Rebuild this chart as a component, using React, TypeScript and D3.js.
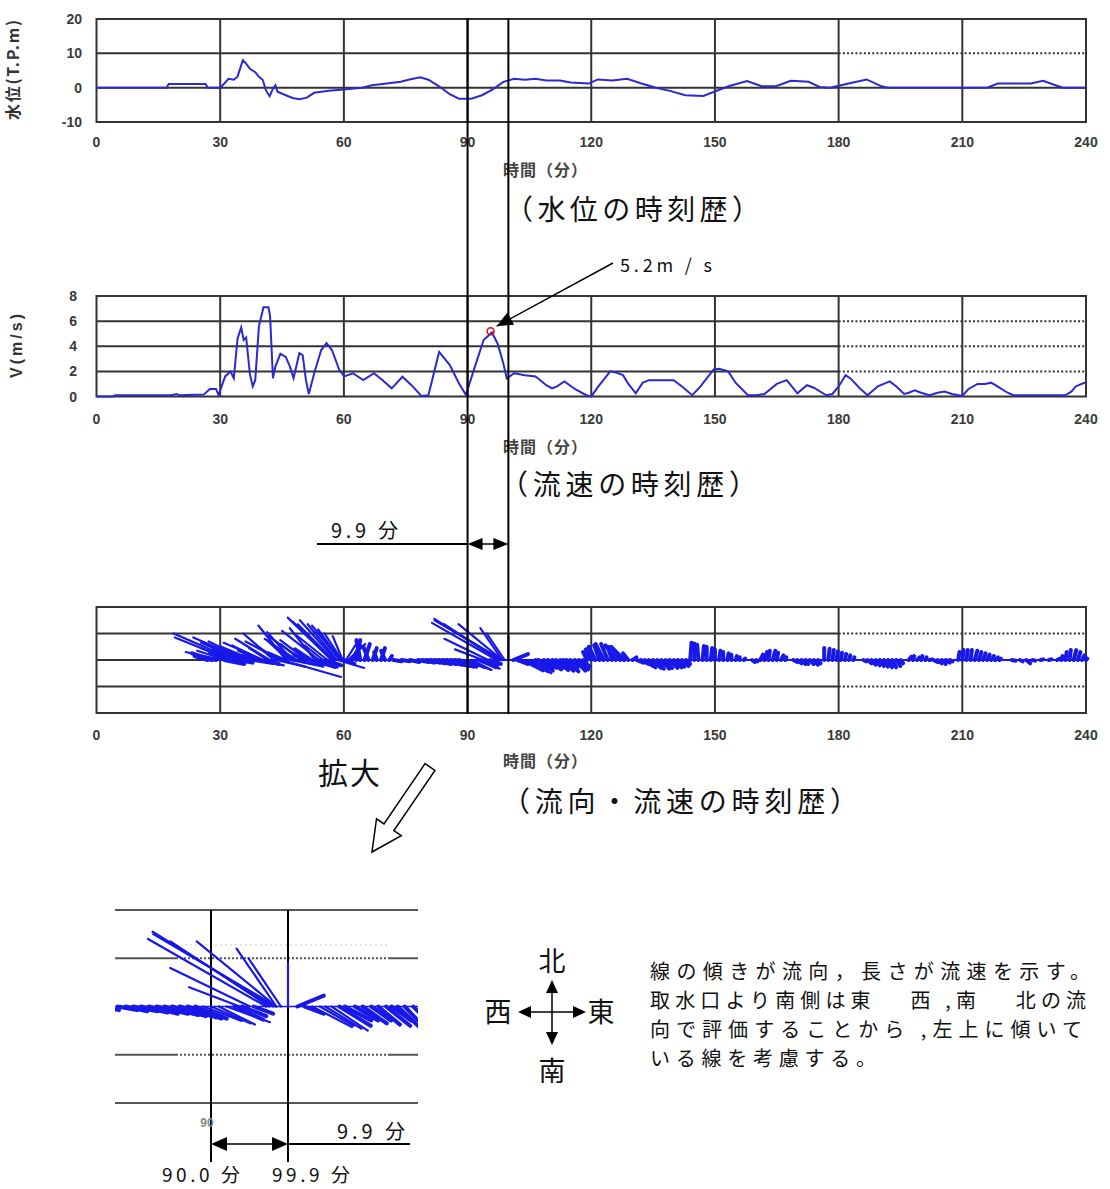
import React from 'react';
import * as d3 from 'd3';

// 水位 (T.P.m)
const wlTime = [0, 17, 17.5, 26.4, 27, 30, 31, 32, 33.3, 34.2, 35.5, 36.3, 37.2, 38.5, 39.4, 40.3, 41.1, 42, 42.8, 43.4, 43.9, 45.9, 47.6, 49.2, 51, 52.8, 56.3, 60, 64.4, 66.8, 70.4, 73.8, 75.9, 78.5, 80.5, 83.1, 85.7, 87.9, 90.9, 93.5, 96.1, 98.7, 101.3, 103.9, 106.5, 109.1, 112.4, 115, 119.4, 121.6, 125.1, 128.7, 132.2, 135.7, 139.3, 142.8, 147.2, 149.8, 153.3, 157.8, 161.3, 164.8, 168.4, 172.7, 175.4, 178, 182.4, 186.8, 190.4, 192, 216, 218.6, 226.6, 229.6, 232.6, 234.4, 240];
const wlLevel = [0, 0, 1.1, 1.1, 0, 0, 1.2, 2.6, 2.3, 3.2, 8, 7, 5.5, 4.5, 3.2, 2.3, -0.8, -2.5, -0.3, 0.7, -1.2, -2.2, -3, -3.4, -2.9, -1.5, -0.9, -0.5, 0, 0.7, 1.2, 1.7, 2.4, 3, 2.3, 0.4, -1.9, -3.2, -3.2, -2.2, -0.5, 1.7, 2.6, 2.3, 2.6, 2.1, 2.1, 1.5, 1.2, 2.4, 2.1, 2.6, 1.2, 0, -1, -2.2, -2.4, -1.2, 0.4, 1.9, 0.4, 0.4, 2, 1.7, 0.2, 0, 1.2, 2.4, 0.4, 0, 0, 1.2, 1.2, 2, 0.7, 0, 0];

// 流速 V (m/s)
const velTime = [0, 4, 4.5, 18, 19.5, 20, 26, 27.5, 29, 29.6, 31.2, 32.5, 33.3, 34.2, 35.1, 35.7, 36.3, 37.2, 37.9, 38.5, 39.4, 40.5, 41.7, 42.1, 42.8, 43.4, 44.6, 45.9, 46.9, 47.8, 49.2, 50, 50.8, 51.5, 52.8, 54.5, 55.8, 57.1, 58.9, 60.1, 62.2, 64.7, 67.3, 69.4, 71.6, 74.2, 76.4, 78.8, 80.5, 83.1, 85.7, 87.9, 89.6, 91.8, 93.9, 95.9, 97.3, 98.7, 99.5, 101.3, 103.9, 106.5, 109.1, 110.5, 111.7, 113.5, 116, 118.8, 120, 121.5, 124.6, 126, 127.7, 129, 130.8, 132.5, 134, 137, 140, 142, 144.5, 146.5, 149.7, 151, 153.2, 155, 158, 160, 162, 165, 167.4, 170, 172.3, 174, 177, 178.5, 180, 181.7, 183, 185, 187, 189.5, 192.4, 194, 195.9, 197, 198.5, 200, 202, 204, 205.7, 207.5, 210, 211.5, 213.7, 215.5, 217, 219, 221, 222.4, 230, 235, 236.5, 237.5, 239.3, 240];
const velSpeed = [0, 0, 0.1, 0.1, 0.2, 0.1, 0.15, 0.6, 0.6, 0.1, 1.6, 2.0, 1.45, 4.6, 5.5, 4.5, 4.7, 1.8, 0.8, 1.3, 5.6, 7.1, 7.1, 6.4, 1.45, 2.4, 3.4, 3.15, 2.4, 1.45, 3.45, 3.3, 1.3, 0.2, 1.85, 3.7, 4.25, 3.7, 2.1, 1.6, 1.85, 1.3, 1.85, 1.3, 0.65, 1.57, 0.9, 0.05, 0.1, 3.55, 2.5, 1.05, 0.13, 2.4, 4.5, 5.1, 4.2, 2.6, 1.45, 1.85, 1.7, 1.6, 0.9, 0.65, 0.8, 1.2, 0.6, 0.1, 0, 0.7, 2.0, 1.9, 1.7, 1.0, 0.25, 1.1, 1.3, 1.3, 1.3, 0.8, 0.1, 0.8, 2.15, 2.2, 2.0, 1.1, 0.1, 0.1, 0.2, 1.0, 1.3, 0.25, 0.9, 0.7, 0.1, 0.2, 0.8, 1.7, 1.4, 0.7, 0.1, 0.8, 1.2, 0.8, 0.2, 0.3, 0.5, 0.3, 0.1, 0.3, 0.4, 0.2, 0.05, 0.6, 1.0, 1.0, 1.1, 0.7, 0.3, 0.1, 0.1, 0.1, 0.4, 0.8, 1.05, 1.1];

// 流向・流速 sticks: east / north components (m/s) at each time
const stickTime = [27, 28, 29, 30, 30.5, 31, 31.5, 32, 32.5, 33, 33.5, 34, 34.5, 35, 36, 36.5, 37, 37.5, 38, 38.5, 39, 39.5, 40, 40.5, 41, 41.5, 42, 43, 43.5, 44, 44.5, 45, 45.5, 46, 46.5, 47, 47.5, 48, 48.5, 49, 49.5, 50, 50.5, 51, 51.5, 52, 53, 53.5, 54, 55, 55.5, 56, 57, 57.2, 57.5, 58, 58.3, 58.5, 59, 59.2, 59.5, 59.7, 60, 60.5, 61, 62, 63, 64, 65, 66, 67, 68, 69, 70, 71, 72, 74, 76, 78, 79, 80, 81, 82, 83, 84, 85, 86, 87, 88, 89, 90, 91, 92, 93, 93.7, 94, 95, 95.5, 97.1, 97.5, 98, 98.4, 98.4, 98.4, 99, 99.9, 101.1, 102, 103, 104, 104.7, 105.5, 106.5, 107.2, 108.5, 109.5, 110.6, 111.5, 112.5, 113.2, 114, 114.9, 116, 117, 118, 119, 120, 121, 122, 123, 124, 125, 126, 127, 128, 129, 130, 131, 132, 133, 134, 135, 136, 137, 138, 139, 140, 141, 142, 143, 144, 145, 146, 147, 148, 149, 150, 151, 152, 153, 154, 155, 156, 157, 159, 160, 161, 162, 163, 164, 165, 166, 167, 169, 170, 171, 172, 173, 174, 175, 176.5, 177.5, 178.5, 179.5, 180.5, 181.5, 182.5, 183.5, 186, 187, 188, 189, 190, 191, 192, 193, 194, 195, 197, 198, 199, 200, 201, 202, 203, 204, 205, 206, 207, 209, 210, 211, 212, 213, 214, 215, 216, 217, 218, 219, 222, 224, 225.5, 227, 229, 231, 233, 234, 235, 236, 237, 238, 239, 240];
const stickEast = [-1.0, -1.5, -1.2, -2.6, -1.8, 1.5, -2.2, -1.4, -4.2, -2.4, -4.6, 1.2, -2.0, -3.0, -3.9, -2.9, 1.8, -1.5, -2.4, -1.0, 2.0, -1.6, -2.2, -3.0, 1.0, -1.4, -2.6, -2.3, 2.2, -1.5, -2.6, 4.45, -1.2, -2.1, -1.6, 2.5, -1.9, -1.0, -2.4, 1.8, -1.5, -2.6, -0.8, -2.0, 2.0, -1.2, -1.9, 1.5, -2.8, -1.4, 1.2, -2.5, -3.3, -3.0, -2.7, -2.7, -2.2, 2.0, -2.1, -1.7, -1.3, -0.75, 0.8, 0.9, 1.3, 0.6, 0.3, -0.3, 0.4, -0.4, 0.3, -0.2, 0.3, -0.3, 0.2, 0.6, 0.6, 0.7, 0.8, 0.9, 1.0, 1.1, 1.2, 1.3, 1.4, 1.4, 1.5, 1.4, 1.3, 1.6, 1.65, 1.5, 1.8, 1.2, -2.1, 1.0, -3.3, 0.8, -4.9, -4.1, -5.0, -5.1, -3.3, -1.65, -1.35, 0, 1.1, 0.8, 1.65, 1.4, 1.5, 1.5, 1.3, 1.1, 0.96, 1.0, 0.82, 0.9, 1.0, 0.82, 0.9, 0.55, 0.8, 0.7, 0.5, -0.3, -0.4, -0.5, -0.4, -0.6, -0.5, -0.3, -0.8, -0.6, -1.0, -0.4, 0.3, 0.5, 0.6, 0.6, 0.5, 0.6, 0.5, 0.6, 0.5, 0.6, 0.6, 0.5, 0.5, 0.3, 0.1, 0.0, -0.1, 0.1, 0.0, 0.1, 0.0, 0.1, 0.0, 0.1, 0.0, 0.1, 0.0, 0.1, 0.2, 0.1, 0.2, 0.2, 0.1, 0.2, 0.1, 0.2, 0.1, 0.3, 0.3, 0.3, 0.2, 0.3, 0.3, 0.2, 0.0, 0.1, 0.1, 0.1, 0.1, 0.1, 0.1, 0.1, 0.2, 0.3, 0.3, 0.3, 0.3, 0.3, 0.3, 0.3, 0.3, 0.2, 0.2, 0.1, 0.2, 0.1, 0.1, 0.2, 0.3, 0.3, 0.3, 0.3, 0.2, 0.1, 0.1, 0.1, 0.1, 0.2, 0.2, 0.2, 0.2, 0.2, 0.2, 0.1, 0.3, 0.2, 0.3, 0.2, 0.2, 0.2, 0.2, 0.1, 0.1, 0.1, 0.2, 0.2, 0.2, 0.1];
const stickNorth = [0.3, 0.5, 0.2, 0.6, 0.4, -0.3, 0.7, 0.5, 1.7, 0.9, 2.0, -0.2, 0.8, 1.3, 1.7, 1.4, -0.3, 0.5, 1.0, 0.3, -0.4, 0.7, 1.1, 1.3, -0.3, 0.9, 1.6, 2.0, -0.5, 1.0, 1.4, -1.28, 0.5, 2.6, 1.5, -0.5, 2.1, 0.6, 1.6, -0.4, 1.2, 1.8, 0.4, 1.5, -0.6, 0.8, 2.4, -0.5, 2.2, 1.1, -0.4, 2.0, 3.2, 2.9, 2.7, 3.0, 2.7, -0.6, 2.6, 2.3, 2.0, 1.8, -0.3, 1.4, 1.2, 1.1, 1.5, 1.5, 1.2, 1.0, 0.9, 0.6, 0.9, 0.7, 0.3, -0.1, -0.1, -0.15, -0.15, -0.2, -0.2, -0.25, -0.3, -0.3, -0.35, -0.4, -0.45, -0.5, -0.5, -0.6, -0.7, -0.75, -0.65, -0.55, 0.8, -0.4, 1.6, -0.3, 2.8, 2.7, 3.1, 3.0, 2.7, 2.4, 2.0, 1.8, 0.45, -0.3, -0.85, -0.8, -0.92, -1.0, -0.8, -0.58, -0.58, -0.7, -0.58, -0.75, -0.8, -0.58, -0.85, -0.58, -0.8, -0.7, -0.5, 0.6, 0.8, 1.0, 1.1, 1.2, 1.2, 1.0, 1.1, 0.9, 1.0, 0.5, 0.2, -0.2, -0.3, -0.45, -0.55, -0.6, -0.65, -0.65, -0.6, -0.6, -0.55, -0.5, -0.45, -0.3, 1.3, 1.25, 1.15, 1.05, 1.0, 0.9, 0.8, 0.7, 0.6, 0.5, 0.4, 0.3, 0.2, 0.1, -0.15, -0.1, 0.4, 0.6, 0.7, 0.7, 0.55, 0.35, 0.2, -0.15, -0.25, -0.3, -0.3, -0.3, -0.35, -0.25, 0.9, 0.85, 0.75, 0.65, 0.55, 0.45, 0.35, 0.2, -0.1, -0.25, -0.35, -0.4, -0.45, -0.5, -0.55, -0.55, -0.45, -0.25, 0.25, 0.3, 0.2, 0.3, 0.2, 0.05, -0.15, -0.25, -0.3, -0.2, -0.1, 0.6, 0.75, 0.75, 0.75, 0.7, 0.6, 0.5, 0.4, 0.3, 0.2, 0.1, -0.05, -0.1, -0.25, -0.05, 0.05, 0.05, 0.1, 0.3, 0.6, 0.75, 0.75, 0.6, 0.35, 0.1];

const timeTicks = [0, 30, 60, 90, 120, 150, 180, 210, 240];
const wlTicks = [20, 10, 0, -10];
const velTicks = [8, 6, 4, 2, 0];
const stickGrid = [2, 0, -2];
const markTimes = [90, 99.9];
const peakTime = 95.6;
const peakSpeed = 5.2;

const noteLines = [
  '線の傾きが流向，長さが流速を示す。',
  '取水口より南側は東　 西 ,南　 北の流',
  '向で評価することから ,左上に傾いて',
  'いる線を考慮する。',
];
const noteWidths = [440, 436, 432, 226];

const JP = '"Noto Sans CJK JP", sans-serif';
const NUM = '"Liberation Sans", Arial, sans-serif';
const BLUE = '#2a2ad0';
const STICK = '#1818e8';
const GRID = '#333';

const x = d3.scaleLinear().domain([0, 240]).range([96.5, 1086]);
const yWl = d3.scaleLinear().domain([-10, 20]).range([122, 19]);
const yVel = d3.scaleLinear().domain([0, 8]).range([396.5, 296]);
const yStk = d3.scaleLinear().domain([-4, 4]).range([713, 607]);
const xZm = d3.scaleLinear().domain([90, 99.9]).range([211, 288]);
const yZm = d3.scaleLinear().domain([-4, 4]).range([1103, 910]);

// arrow head polygon pointing from (fx,fy) to tip (tx,ty)
function head(tx: number, ty: number, fx: number, fy: number, len = 14, half = 6) {
  const dx = tx - fx, dy = ty - fy, L = Math.hypot(dx, dy);
  const ux = dx / L, uy = dy / L;
  const bx = tx - ux * len, by = ty - uy * len;
  return `${tx},${ty} ${bx - uy * half},${by + ux * half} ${bx + uy * half},${by - ux * half}`;
}

function Frame({ y, lines, dotted, labelY }: any) {
  const [yb, yt] = y.range();
  const [x0, x1] = x.range();
  return (
    <g>
      {timeTicks.slice(1, -1).map(t => (
        <line key={'v' + t} x1={x(t)} x2={x(t)} y1={yt} y2={yb} stroke={GRID} strokeWidth={2} />
      ))}
      {lines.map((v: number) => dotted.includes(v) ? (
        <g key={'h' + v}>
          <line x1={x0} x2={x(180)} y1={y(v)} y2={y(v)} stroke={GRID} strokeWidth={2} />
          <line x1={x(180)} x2={x1} y1={y(v)} y2={y(v)} stroke={GRID} strokeWidth={2} strokeDasharray="2 2.2" />
        </g>
      ) : (
        <line key={'h' + v} x1={x0} x2={x1} y1={y(v)} y2={y(v)} stroke={GRID} strokeWidth={2} />
      ))}
      <rect x={x0} y={yt} width={x1 - x0} height={yb - yt} fill="none" stroke={GRID} strokeWidth={2} />
      {timeTicks.map(t => (
        <text key={'t' + t} x={x(t)} y={labelY} textAnchor="middle" fontFamily={NUM} fontWeight="bold" fontSize={14} fill="#3a3a3a">{t}</text>
      ))}
    </g>
  );
}

// short sticks are drawn thicker so that dense runs read as a filled band
function Sticks({ xs, ys, k, clip }: any) {
  const y0 = ys(0);
  return (
    <g clipPath={clip}>
      {stickTime.map((t, i) => {
        const len = Math.hypot(stickEast[i], stickNorth[i]);
        return (
          <line key={i} x1={xs(t)} y1={y0} x2={xs(t) + stickEast[i] * k} y2={ys(stickNorth[i])}
            stroke={STICK} strokeWidth={len < 1.6 ? 4 : 2.2} strokeLinecap="round" />
        );
      })}
    </g>
  );
}

export default function App() {
  const wlLine = d3.line<number>().x((_, i) => x(wlTime[i])).y(d => yWl(d));
  const velLine = d3.line<number>().x((_, i) => x(velTime[i])).y(d => yVel(d));
  const k3 = yStk(0) - yStk(1);
  const kz = yZm(0) - yZm(1);

  // hollow arrow "拡大"
  const tail = [430, 767], tip = [372, 852];
  const dx = tip[0] - tail[0], dy = tip[1] - tail[1], L = Math.hypot(dx, dy);
  const ux = dx / L, uy = dy / L, nx = -uy, ny = ux;
  const hb = [tip[0] - ux * 30, tip[1] - uy * 30];
  const P = (p: number[], s: number) => `${p[0] + nx * s},${p[1] + ny * s}`;
  const bigArrow = [P(tail, 6), P(hb, 6), P(hb, 15), `${tip[0]},${tip[1]}`, P(hb, -15), P(hb, -6), P(tail, -6)].join(' ');

  const c = [552, 1012];
  const px = x(peakTime), py = yVel(peakSpeed);

  return (
    <svg width={1110} height={1189} style={{ position: 'absolute', left: 0, top: 0, background: '#fff' }}>
      <defs>
        <clipPath id="zoomClip"><rect x={115} y={895} width={303} height={220} /></clipPath>
      </defs>

      {/* panel 1: 水位 */}
      <Frame y={yWl} lines={[10, 0]} dotted={[10]} labelY={147} />
      {wlTicks.map(v => (
        <text key={v} x={82} y={yWl(v) + 5} textAnchor="end" fontFamily={NUM} fontWeight="bold" fontSize={14} fill="#3a3a3a">{v}</text>
      ))}
      <text transform="translate(19,70) rotate(-90)" textAnchor="middle" fontFamily={JP} fontWeight="bold" fontSize={16} fill="#333" textLength={100}>水位(T.P.m)</text>
      <path d={wlLine(wlLevel) || ''} fill="none" stroke={BLUE} strokeWidth={2} />
      <text x={503} y={176} fontFamily={JP} fontWeight="bold" fontSize={16} fill="#444" textLength={84}>時間（分）</text>
      <text x={505} y={220} fontFamily={JP} fontSize={28} fill="#111" textLength={255} lengthAdjust="spacing">（水位の時刻歴）</text>

      {/* panel 2: 流速 */}
      <Frame y={yVel} lines={[6, 4, 2]} dotted={[6, 4, 2]} labelY={424} />
      {velTicks.map(v => (
        <text key={v} x={77} y={yVel(v) + 5} textAnchor="end" fontFamily={NUM} fontWeight="bold" fontSize={14} fill="#3a3a3a">{v}</text>
      ))}
      <text transform="translate(22,346) rotate(-90)" textAnchor="middle" fontFamily={NUM} fontWeight="bold" fontSize={16} fill="#333" textLength={64}>V(m/s)</text>
      <path d={velLine(velSpeed) || ''} fill="none" stroke={BLUE} strokeWidth={2} />
      <circle cx={px} cy={py} r={3.5} fill="none" stroke="#e01010" strokeWidth={1.6} />
      <line x1={613} y1={263} x2={px + 6} y2={py - 5} stroke="#000" strokeWidth={1.5} />
      <polygon points={head(px + 6, py - 5, 613, 263, 16, 7)} fill="#000" />
      <text x={620} y={272} fontFamily={JP} fontSize={18} fill="#111" textLength={92}>5.2m / s</text>
      <text x={503} y={453} fontFamily={JP} fontWeight="bold" fontSize={16} fill="#444" textLength={84}>時間（分）</text>
      <text x={500} y={495} fontFamily={JP} fontSize={28} fill="#111" textLength={257} lengthAdjust="spacing">（流速の時刻歴）</text>

      {/* 9.9分 span */}
      <line x1={317} x2={x(90)} y1={544} y2={544} stroke="#000" strokeWidth={2} />
      <line x1={x(90) + 10} x2={x(99.9) - 10} y1={544} y2={544} stroke="#000" strokeWidth={1.5} />
      <polygon points={head(x(90), 544, x(99.9), 544, 15, 6)} fill="#000" />
      <polygon points={head(x(99.9), 544, x(90), 544, 15, 6)} fill="#000" />
      <text x={331} y={538} fontFamily={JP} fontSize={20} fill="#111" textLength={67}>9.9 分</text>

      {/* panel 3: 流向・流速 */}
      <Frame y={yStk} lines={stickGrid} dotted={[2, -2]} labelY={740} />
      <line x1={x(stickTime[0])} x2={x(240)} y1={yStk(0)} y2={yStk(0)} stroke={STICK} strokeWidth={2} />
      <Sticks xs={x} ys={yStk} k={k3} />
      <text x={503} y={767} fontFamily={JP} fontWeight="bold" fontSize={16} fill="#444" textLength={84}>時間（分）</text>
      <text x={502} y={812} fontFamily={JP} fontSize={28} fill="#111" textLength={356} lengthAdjust="spacing">（流向・流速の時刻歴）</text>

      {/* time markers through all panels */}
      {markTimes.map(t => (
        <line key={t} x1={x(t)} x2={x(t)} y1={18} y2={714} stroke="#000" strokeWidth={2} />
      ))}

      {/* 拡大 */}
      <text x={318} y={784} fontFamily={JP} fontSize={30} fill="#111" textLength={62}>拡大</text>
      <polygon points={bigArrow} fill="#fff" stroke="#000" strokeWidth={1.5} />

      {/* zoomed view */}
      <line x1={115} x2={418} y1={yZm(4)} y2={yZm(4)} stroke="#555" strokeWidth={2} />
      <line x1={115} x2={418} y1={yZm(-4)} y2={yZm(-4)} stroke="#555" strokeWidth={2} />
      {[2, -2].map(v => (
        <g key={v}>
          <line x1={115} x2={176} y1={yZm(v)} y2={yZm(v)} stroke="#555" strokeWidth={2} />
          <line x1={176} x2={390} y1={yZm(v)} y2={yZm(v)} stroke="#555" strokeWidth={2} strokeDasharray="2 2" />
          <line x1={390} x2={418} y1={yZm(v)} y2={yZm(v)} stroke="#555" strokeWidth={2} />
        </g>
      ))}
      <line x1={185} x2={390} y1={945} y2={945} stroke="#ddd" strokeWidth={1.5} strokeDasharray="2 3" />
      {markTimes.map(t => (
        <line key={'z' + t} x1={xZm(t)} x2={xZm(t)} y1={910} y2={1162} stroke="#000" strokeWidth={2} />
      ))}
      <line x1={115} x2={418} y1={yZm(0)} y2={yZm(0)} stroke={STICK} strokeWidth={1.5} />
      <Sticks xs={xZm} ys={yZm} k={kz} clip="url(#zoomClip)" />
      <text x={xZm(90) - 4} y={1127} textAnchor="middle" fontFamily={NUM} fontWeight="bold" fontSize={12} fill="#888">90</text>
      <line x1={xZm(99.9)} x2={410} y1={1144} y2={1144} stroke="#000" strokeWidth={2} />
      <line x1={xZm(90) + 10} x2={xZm(99.9) - 10} y1={1144} y2={1144} stroke="#000" strokeWidth={1.5} />
      <polygon points={head(xZm(90), 1144, xZm(99.9), 1144, 16, 7)} fill="#000" />
      <polygon points={head(xZm(99.9), 1144, xZm(90), 1144, 16, 7)} fill="#000" />
      <text x={337} y={1139} fontFamily={JP} fontSize={20} fill="#111" textLength={68}>9.9 分</text>
      <text x={162} y={1182} fontFamily={JP} fontSize={19} fill="#111" textLength={78}>90.0 分</text>
      <text x={272} y={1182} fontFamily={JP} fontSize={19} fill="#111" textLength={78}>99.9 分</text>

      {/* compass */}
      <line x1={c[0]} x2={c[0]} y1={985} y2={1040} stroke="#000" strokeWidth={1.5} />
      <line x1={522} x2={578} y1={c[1]} y2={c[1]} stroke="#000" strokeWidth={1.5} />
      <polygon points={head(c[0], 980, c[0], c[1], 13, 6)} fill="#000" />
      <polygon points={head(c[0], 1045, c[0], c[1], 13, 6)} fill="#000" />
      <polygon points={head(518, c[1], c[0], c[1], 13, 6)} fill="#000" />
      <polygon points={head(586, c[1], c[0], c[1], 13, 6)} fill="#000" />
      <text x={c[0]} y={971} textAnchor="middle" fontFamily={JP} fontSize={27} fill="#111">北</text>
      <text x={c[0]} y={1081} textAnchor="middle" fontFamily={JP} fontSize={27} fill="#111">南</text>
      <text x={498} y={1022} textAnchor="middle" fontFamily={JP} fontSize={27} fill="#111">西</text>
      <text x={601} y={1022} textAnchor="middle" fontFamily={JP} fontSize={27} fill="#111">東</text>

      {noteLines.map((s, i) => (
        <text key={i} x={650} y={979 + i * 29} fontFamily={JP} fontSize={20} fill="#111" textLength={noteWidths[i]} lengthAdjust="spacing">{s}</text>
      ))}
    </svg>
  );
}
